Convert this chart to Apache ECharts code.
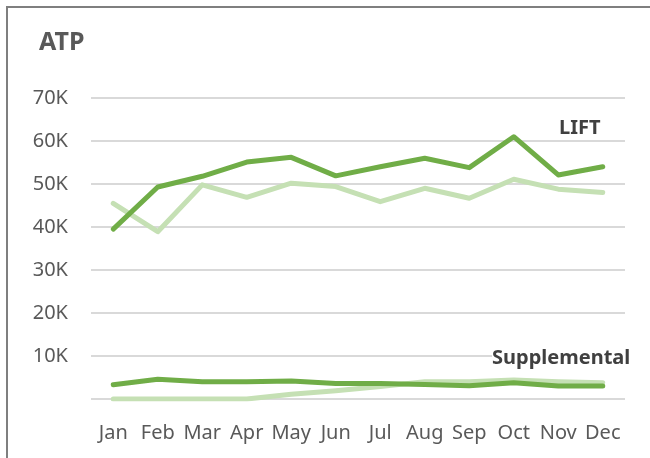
<!DOCTYPE html>
<html><head><meta charset="utf-8">
<script src="https://cdn.jsdelivr.net/npm/echarts@6/dist/echarts.min.js"></script>
<style>html,body{margin:0;padding:0;background:#fff}#c{width:650px;height:458px}</style>
</head><body><div id="c"></div>
<script>
const months = ['Jan','Feb','Mar','Apr','May','Jun','Jul','Aug','Sep','Oct','Nov','Dec'];
const yTicks = [0,10000,20000,30000,40000,50000,60000,70000];
const liftCurrent = [39500,49300,51800,55100,56200,51900,54000,56000,53800,61000,52100,54000];
const liftPrior = [45500,38900,49800,46900,50200,49400,45900,49000,46700,51100,48800,48000];
const suppCurrent = [3300,4600,4000,4000,4200,3600,3600,3400,3100,3800,3000,3000];
const suppPrior = [0,0,0,0,1100,1900,2900,4000,4000,4400,4000,3800];
const FONT = '"Noto Sans", sans-serif';
const DARK = '#70AD47', LIGHT = '#C5E0B4';
const chart = echarts.init(document.getElementById('c'), null, {renderer:'canvas'});
function line(data, color, z){
  return {type:'line', data, symbol:'none', z, lineStyle:{color, width:5, cap:'round', join:'round'}, itemStyle:{color}, animation:false};
}
chart.setOption({
  animation:false,
  grid:{left:91, right:25, top:98, bottom:59, containLabel:false},
  xAxis:{type:'category', data:months, boundaryGap:true,
    axisLine:{show:false}, axisTick:{show:false},
    axisLabel:{color:'#595959', fontFamily:FONT, fontSize:20, margin:24, interval:0}},
  yAxis:{type:'value', min:yTicks[0], max:yTicks[yTicks.length-1], interval:10000,
    axisLine:{show:false}, axisTick:{show:false},
    splitLine:{lineStyle:{color:'#D9D9D9', width:2}},
    axisLabel:{color:'#595959', fontFamily:FONT, fontSize:20, margin:23,
      formatter:v=> v===0 ? '' : (v/1000)+'K'}},
  series:[
    line(liftPrior, LIGHT, 2),
    line(suppPrior, LIGHT, 2),
    line(liftCurrent, DARK, 3),
    line(suppCurrent, DARK, 3)
  ],
  graphic:[
    {type:'rect', shape:{x:7, y:7, width:700, height:500}, style:{fill:'none', stroke:'#7F7F7F', lineWidth:2}, silent:true},
    {type:'text', left:39, top:30, style:{text:'ATP', fill:'#595959', font:'bold 25px '+FONT}},
    {type:'text', left:559, top:118, style:{text:'LIFT', fill:'#404040', font:'bold 20px '+FONT}},
    {type:'text', left:492, top:348, z:10, style:{text:'Supplemental', fill:'#404040', font:'bold 20px '+FONT, backgroundColor:'#fff'}}
  ]
});
</script></body></html>
